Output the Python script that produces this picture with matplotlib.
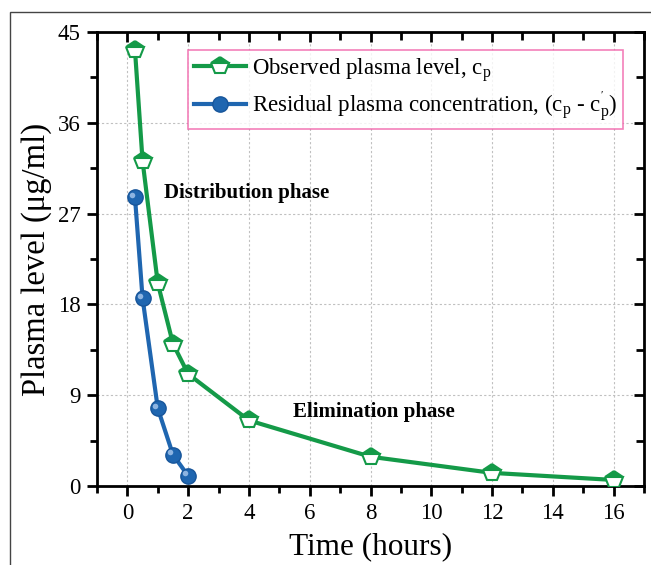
import matplotlib
matplotlib.use("Agg")
import matplotlib.pyplot as plt
from matplotlib.patches import Rectangle
from matplotlib.ticker import MultipleLocator
from matplotlib.transforms import offset_copy

plt.rcParams['font.family'] = ['Liberation Serif', 'DejaVu Serif']
plt.rcParams['mathtext.fontset'] = 'custom'
plt.rcParams['mathtext.rm'] = 'Liberation Serif'
plt.rcParams['mathtext.it'] = 'Liberation Serif'

# Data
time_obs = [0.25, 0.5, 1, 1.5, 2, 4, 8, 12, 16]
cp_obs = [43.2, 32.2, 20.1, 14.1, 11.1, 6.5, 2.9, 1.3, 0.6]
time_res = [0.25, 0.5, 1, 1.5, 2]
cp_res = [28.6, 18.6, 7.7, 3.1, 1.0]
xticks = list(range(0, 17, 2))
yticks = [0, 9, 18, 27, 36, 45]

green = '#149a48'
blue = '#1f66b0'

fig = plt.figure(figsize=(6.51, 5.65), dpi=100)
pos = [97/651, 1-486/565, (644-97)/651, (486-32)/565]
ax = fig.add_axes(pos)

fig.patches.append(Rectangle((10/651, -0.1), 1.2, 1-12/565+0.1, transform=fig.transFigure,
                             fill=False, edgecolor='#444444', linewidth=1.0, zorder=0))

ax.plot(time_obs, cp_obs, color=green, lw=3, marker='p', ms=13,
        fillstyle='top', markerfacecolor=green, markerfacecoloralt='white',
        markeredgecolor=green, markeredgewidth=1.5,
        label=r'Observed plasma level, c$_\mathregular{p}$', zorder=3)
ax.plot(time_res, cp_res, color=blue, lw=3, marker='o', ms=11,
        markerfacecolor=blue, markeredgecolor='#17559a', markeredgewidth=1,
        label=r"Residual plasma concentration, (c$_\mathregular{p}$ - c$^{\mathregular{'}}_{\mathregular{p}}$)", zorder=3)
hl = offset_copy(ax.transData, fig=fig, x=-2, y=2, units='points')
ax.plot(time_res, cp_res, linestyle='none', marker='o', ms=4, color='#a9c9ee',
        alpha=0.8, markeredgewidth=0, transform=hl, zorder=4)

ax.set_xlim(-1, 17)
ax.set_ylim(0, 45)
ax.set_xticks(xticks)
ax.set_yticks(yticks)
ax.xaxis.set_minor_locator(MultipleLocator(1))
ax.yaxis.set_minor_locator(MultipleLocator(4.5))
ax.grid(True, which='major', color='#c0c0c0', linestyle=(0, (2, 2)), linewidth=0.8)
ax.set_axisbelow(True)

for s in ax.spines.values():
    s.set_linewidth(2)
ax.tick_params(axis='both', which='major', direction='out', length=7, width=2,
               labelsize=16.5, pad=5)
ax.tick_params(axis='both', which='minor', direction='out', length=5, width=2)

# overlay axes for inward ticks on top and right
ax2 = fig.add_axes(pos, frameon=False)
ax2.set_xlim(-1, 17)
ax2.set_ylim(0, 45)
ax2.set_xticks(xticks)
ax2.set_yticks(yticks)
ax2.xaxis.set_minor_locator(MultipleLocator(1))
ax2.yaxis.set_minor_locator(MultipleLocator(4.5))
ax2.tick_params(which='both', bottom=False, left=False, labelbottom=False, labelleft=False,
                top=True, right=True, direction='in', width=2)
ax2.tick_params(which='major', length=7)
ax2.tick_params(which='minor', length=6)
ax2.patch.set_visible(False)

ax.set_xlabel('Time (hours)', fontsize=22.5, labelpad=6)
ax.set_ylabel('Plasma level (μg/ml)', fontsize=23.5, labelpad=4)

ax.text(1.2, 29.0, 'Distribution phase', fontsize=15, fontweight='bold', va='center', ha='left')
ax.text(5.45, 7.3, 'Elimination phase', fontsize=15, fontweight='bold', va='center', ha='left')

leg = ax.legend(loc='upper left', bbox_to_anchor=((188-97)/547, 1-(50-32)/454),
                fontsize=16.5, frameon=True, fancybox=False, borderaxespad=0,
                handlelength=2.3, handletextpad=0.25, labelspacing=0.25, borderpad=0.25)
leg.get_frame().set_edgecolor('#f060a8')
leg.get_frame().set_linewidth(1.2)

fig.savefig('out.png', dpi=100)
